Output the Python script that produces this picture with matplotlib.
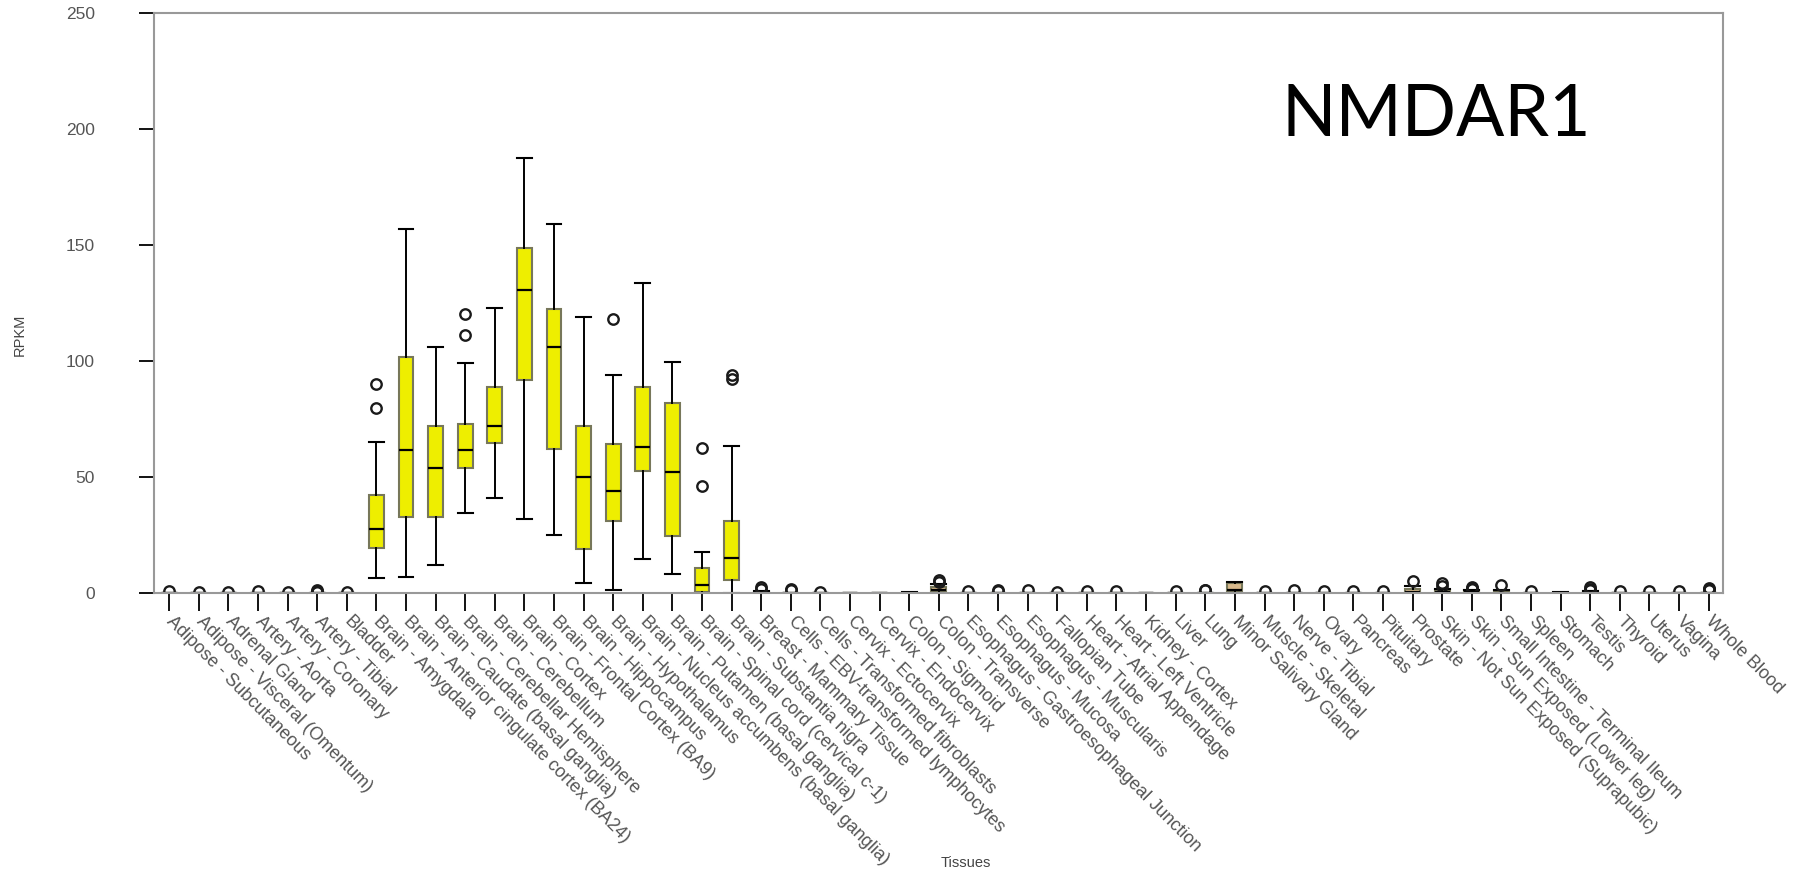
import matplotlib
matplotlib.use("Agg")
import matplotlib.pyplot as plt

# GTEx tissues, in plot order
tissues = [
    "Adipose - Subcutaneous", "Adipose - Visceral (Omentum)", "Adrenal Gland",
    "Artery - Aorta", "Artery - Coronary", "Artery - Tibial", "Bladder",
    "Brain - Amygdala", "Brain - Anterior cingulate cortex (BA24)",
    "Brain - Caudate (basal ganglia)", "Brain - Cerebellar Hemisphere",
    "Brain - Cerebellum", "Brain - Cortex", "Brain - Frontal Cortex (BA9)",
    "Brain - Hippocampus", "Brain - Hypothalamus",
    "Brain - Nucleus accumbens (basal ganglia)", "Brain - Putamen (basal ganglia)",
    "Brain - Spinal cord (cervical c-1)", "Brain - Substantia nigra",
    "Breast - Mammary Tissue", "Cells - EBV-transformed lymphocytes",
    "Cells - Transformed fibroblasts", "Cervix - Ectocervix", "Cervix - Endocervix",
    "Colon - Sigmoid", "Colon - Transverse", "Esophagus - Gastroesophageal Junction",
    "Esophagus - Mucosa", "Esophagus - Muscularis", "Fallopian Tube",
    "Heart - Atrial Appendage", "Heart - Left Ventricle", "Kidney - Cortex",
    "Liver", "Lung", "Minor Salivary Gland", "Muscle - Skeletal", "Nerve - Tibial",
    "Ovary", "Pancreas", "Pituitary", "Prostate",
    "Skin - Not Sun Exposed (Suprapubic)", "Skin - Sun Exposed (Lower leg)",
    "Small Intestine - Terminal Ileum", "Spleen", "Stomach", "Testis", "Thyroid",
    "Uterus", "Vagina", "Whole Blood",
]

# box statistics (RPKM)
q1 = [0, 0, 0, 0, 0, 0, 0,
      19.3, 32.5, 32.5, 53.8, 64.4, 91.5, 62.1, 18.8, 30.8, 52.6, 24.4, 0.4, 5.5,
      0, 0, 0, 0, 0, 0, 0.3, 0, 0, 0, 0, 0, 0, 0, 0, 0, 0.3, 0, 0, 0, 0, 0,
      0, 0, 0, 0, 0, 0, 0, 0, 0, 0, 0]
med = [0, 0, 0, 0, 0, 0, 0,
       27.3, 61.4, 53.8, 61.4, 72.0, 130.3, 105.9, 50.0, 43.8, 62.7, 51.9, 3.2, 15.1,
       0, 0, 0, 0, 0, 0, 1.2, 0, 0, 0, 0, 0, 0, 0, 0, 0, 1.2, 0, 0, 0, 0, 0,
       0.5, 0.3, 0.3, 0, 0, 0, 0, 0, 0, 0, 0]
q3 = [0, 0, 0, 0, 0, 0, 0,
      42.2, 101.7, 71.7, 72.8, 88.5, 148.4, 122.3, 71.7, 64.1, 88.5, 81.6, 10.8, 30.9,
      0.5, 0, 0, 0, 0, 0, 2.6, 0, 0, 0, 0, 0, 0, 0, 0, 0, 4.3, 0, 0, 0, 0, 0,
      1.8, 1.0, 1.0, 0.8, 0, 0, 0.6, 0, 0, 0, 0]
whislo = [0, 0, 0, 0, 0, 0, 0,
          6.2, 6.8, 11.8, 34.4, 40.7, 31.9, 24.9, 4.3, 1.2, 14.4, 8.1, 0, 0,
          0, 0, 0, 0, 0, 0, 0, 0, 0, 0, 0, 0, 0, 0, 0, 0, 0, 0, 0, 0, 0, 0,
          0, 0, 0, 0, 0, 0, 0, 0, 0, 0, 0]
whishi = [0, 0, 0, 0, 0, 0, 0,
          65.1, 156.6, 105.8, 98.9, 122.6, 187.2, 159.1, 118.8, 93.8, 133.4, 99.6, 17.4, 63.2,
          0.8, 0, 0, 0, 0, 0.4, 3.7, 0, 0, 0, 0, 0, 0, 0, 0, 0, 4.8, 0, 0, 0, 0, 0,
          2.9, 1.5, 1.2, 1.2, 0, 0.4, 0.8, 0, 0, 0, 0]
outliers = [[0.6], [0.5], [0.5], [0.6], [0.4], [0.5, 0.8, 1.0], [0.4],
            [79.4, 89.8], [], [], [111.2, 120.0], [], [], [], [], [117.8], [], [],
            [45.9, 62.2], [92.0, 93.8],
            [1.5, 2.3], [1.0, 1.6], [0.5], [], [], [], [4.8, 5.6], [0.8], [0.9, 1.2],
            [1.0], [0.5], [0.8], [0.9], [], [0.6], [1.0, 1.3], [], [0.9], [1.0],
            [0.6], [0.8], [0.9], [5.0], [2.9, 4.3], [1.5, 2.0, 2.5], [3.3], [0.7],
            [], [1.2, 1.8, 2.3], [0.8], [0.7], [0.9], [1.0, 1.6, 2.0]]
tan_boxes = ["Colon - Transverse", "Minor Salivary Gland", "Prostate"]

fig = plt.figure(figsize=(17.94, 8.75), dpi=100)
ax = fig.add_axes([0.0861, 0.3226, 0.8745, 0.663])

stats = []
for i, name in enumerate(tissues):
    stats.append({"label": name, "q1": q1[i], "med": med[i], "q3": q3[i],
                  "whislo": whislo[i], "whishi": whishi[i], "fliers": outliers[i]})

positions = list(range(1, len(tissues) + 1))
bp = ax.bxp(stats, positions=positions, widths=0.5, capwidths=0.5, patch_artist=True,
            boxprops=dict(edgecolor="#77775a", linewidth=1.5),
            medianprops=dict(color="black", linewidth=1.6),
            whiskerprops=dict(color="black", linewidth=1.4),
            capprops=dict(color="black", linewidth=1.5),
            flierprops=dict(marker="o", markerfacecolor="none", markeredgecolor="#1a1a1a",
                            markersize=7.5, markeredgewidth=1.7))
for name, box in zip(tissues, bp["boxes"]):
    box.set_facecolor("#d8b98c" if name in tan_boxes else "#eeee00")

ax.set_xlim(0.5, len(tissues) + 0.5)
ax.set_ylim(0, 250)
ax.set_yticks([0, 50, 100, 150, 200, 250])
ax.set_xticks(positions)
ax.set_xticklabels(tissues, rotation=-45, ha="left", va="center",
                   rotation_mode="anchor", fontsize=13, color="#555555",
                   family="Liberation Sans")
for lab in ax.get_yticklabels():
    lab.set_fontsize(12.5)
    lab.set_color("#555555")
    lab.set_family("Liberation Sans")
ax.tick_params(axis="x", length=13, width=1.3, pad=6, color="black")
ax.tick_params(axis="y", length=11, width=1.3, pad=32, color="black")
for sp in ax.spines.values():
    sp.set_color("#999999")
    sp.set_linewidth(1.5)

fig.text(20 / 1794, 1 - 335 / 875, "RPKM", rotation=90, ha="center", va="center",
         fontsize=10.5, color="#444444", family="Liberation Sans")
fig.text(966 / 1794, 1 - 863 / 875, "Tissues", ha="center", va="center",
         fontsize=10.5, color="#444444", family="Liberation Sans")
fig.text(1281.7 / 1794, 1 - 136 / 875, "NMDAR1", ha="left", va="baseline",
         fontsize=51.5, color="black", family="Lato")

fig.savefig("out.png", dpi=100)
